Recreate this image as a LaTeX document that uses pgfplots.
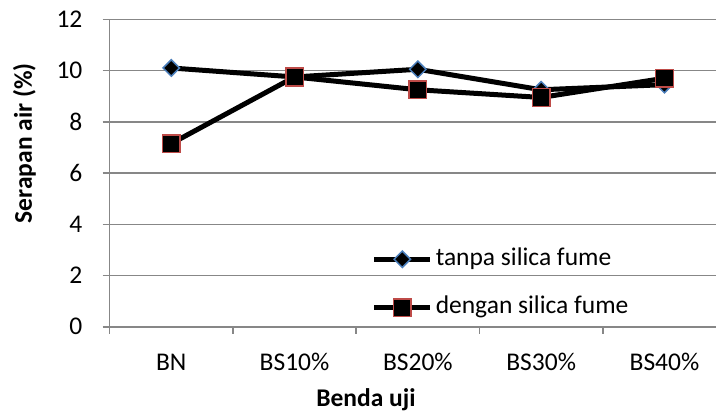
\documentclass[border=0pt]{standalone}
\usepackage{fontspec}
\setmainfont{Carlito}
\usepackage{pgfplots}
\usepackage{pgfplotstable}
\pgfplotsset{compat=1.18}
\definecolor{gridgray}{HTML}{878787}
\definecolor{mblue}{HTML}{4A7EBB}
\definecolor{mred}{HTML}{BE4B48}
\newcommand{\fs}{\fontsize{25.5bp}{30bp}\selectfont}

\pgfplotstableread{
x tanpa dengan
0 10.10 7.15
1 9.75 9.75
2 10.05 9.25
3 9.25 8.95
4 9.45 9.70
}\data

\begin{document}
\begin{tikzpicture}
\begin{axis}[
  scale only axis, width=606.4bp, height=307.5bp,
  xmin=-0.5, xmax=4.418, ymin=0, ymax=12,
  axis x line*=bottom, axis y line*=left,
  axis line style={gridgray, line width=1.5bp, -},
  ytick={0,2,...,12},
  xtick={-0.5,0.5,1.5,2.5,3.5},
  xticklabels={BN,BS10\%,BS20\%,BS30\%,BS40\%},
  tick align=outside,
  major tick length=7bp,
  tick style={gridgray, line width=1.5bp},
  ymajorgrids, major grid style={gridgray, line width=1.5bp},
  tick label style={font=\fs},
  /pgf/number format/assume math mode=true,
  xticklabel style={anchor=base, xshift=61.65bp, yshift=-36.9bp},
  yticklabel style={anchor=east, inner xsep=0pt, xshift=-20bp},
  xlabel={\bfseries Benda uji},
  ylabel={\bfseries Serapan air (\%)},
  label style={font=\fs},
  xlabel style={at={(axis description cs:0.4228,-0.2608)}, anchor=base},
  ylabel style={at={(axis description cs:-0.128,0.597)}, anchor=base},
  legend style={draw=none, fill=none, inner sep=0pt, at={(axis description cs:0.432,0.1405)}, anchor=west, font=\fs, row sep=24.7bp,
    nodes={inner sep=0pt, text height=18bp, text depth=6bp},
    /tikz/every odd column/.append style={column sep=3bp}},
  legend cell align=left,
  legend image code/.code={\draw[mark repeat=2,mark phase=2,#1] plot coordinates {(0bp,0bp) (28bp,0bp) (56bp,0bp)};},
]
\addplot[black, line width=5bp, mark=square*, mark size=5.8bp,
  mark options={rotate=45, fill=black, draw=mblue, line width=1.5bp}]
  table[x=x, y=tanpa]{\data};
\addlegendentry{tanpa silica fume}
\addplot[black, line width=5bp, mark=square*, mark size=8.8bp,
  mark options={fill=black, draw=mred, line width=1.5bp}]
  table[x=x, y=dengan]{\data};
\addlegendentry{dengan silica fume}
\end{axis}
\pgfresetboundingbox
\path[use as bounding box] ([shift={(-109.6bp,-88.2bp)}]current axis.south west) rectangle ++(716bp,415bp);
\end{tikzpicture}
\end{document}
